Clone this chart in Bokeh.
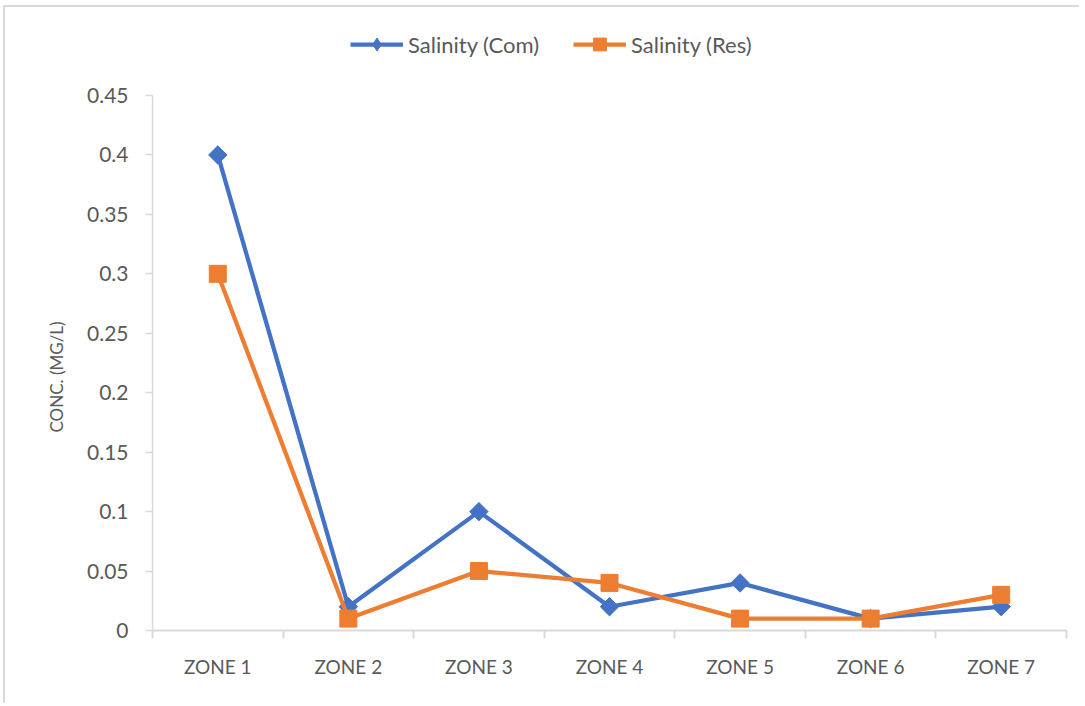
from bokeh.plotting import figure
from bokeh.models import (ColumnDataSource, Legend, LegendItem, FixedTicker, Range1d, Title)
from bokeh.embed import file_html
from bokeh.resources import INLINE
import numpy as np

zones = ["ZONE 1", "ZONE 2", "ZONE 3", "ZONE 4", "ZONE 5", "ZONE 6", "ZONE 7"]
salinity_com = [0.40, 0.02, 0.10, 0.02, 0.04, 0.01, 0.02]
salinity_res = [0.30, 0.01, 0.05, 0.04, 0.01, 0.01, 0.03]
y_ticks = [0, 0.05, 0.1, 0.15, 0.2, 0.25, 0.3, 0.35, 0.4, 0.45]
y_tick_labels = ["0", "0.05", "0.1", "0.15", "0.2", "0.25", "0.3", "0.35", "0.4", "0.45"]
y_title = "CONC. (MG/L)"

BLUE = "#4472C4"
ORANGE = "#ED7D31"
TXT = "#595959"
AX = "#d9d9d9"
FONT = "Lato"

Y_MAX = 0.45
# frame extends above the axis top (to host the legend): pixel layout 30 / 95 / 630
Y_END = Y_MAX * (630 - 30) / (630 - 95)

xpos = [i + 0.5 for i in range(len(zones))]
src = ColumnDataSource(dict(x=xpos, com=salinity_com, res=salinity_res))

p = figure(width=1076, height=698, output_backend="svg", toolbar_location=None,
           x_range=Range1d(0, len(zones)), y_range=Range1d(0, Y_END),
           min_border_left=147, min_border_right=15, min_border_top=23, min_border_bottom=75)
p.styles = {"margin-left": "3px", "margin-top": "5px",
            "border-left": "2px solid #d9d9d9", "border-top": "2px solid #d9d9d9"}
p.outline_line_color = None
p.xgrid.visible = False
p.ygrid.visible = False

# x axis: labels at centres, tick marks at category boundaries
xa = p.xaxis[0]
xa.ticker = FixedTicker(ticks=xpos, minor_ticks=list(range(len(zones) + 1)))
xa.major_label_overrides = {x: z for x, z in zip(xpos, zones)}
xa.major_tick_out = 0
xa.major_tick_in = 0
xa.minor_tick_out = 8
xa.minor_tick_in = 0
xa.minor_tick_line_color = AX
xa.minor_tick_line_width = 2
xa.axis_line_color = AX
xa.axis_line_width = 2
xa.major_label_standoff = 16
xa.major_label_text_font = FONT
xa.major_label_text_font_size = "19px"
xa.major_label_text_color = TXT

ya = p.yaxis[0]
ya.ticker = FixedTicker(ticks=y_ticks, minor_ticks=[])
ya.bounds = (0, Y_MAX)
ya.major_label_overrides = {t: l for t, l in zip(y_ticks, y_tick_labels)}
ya.major_tick_out = 7
ya.major_tick_in = 0
ya.major_tick_line_color = AX
ya.major_tick_line_width = 1.5
ya.axis_line_color = AX
ya.axis_line_width = 1.5
ya.major_label_standoff = 17
ya.major_label_text_font = FONT
ya.major_label_text_font_size = "21px"
ya.major_label_text_color = TXT

# y-axis title centred on the 0..0.45 span (frame is taller than the axis)
p.add_layout(Title(text=y_title, align="left", offset=198, standoff=36,
                   text_font=FONT, text_font_size="17px", text_font_style="normal",
                   text_color=TXT), "left")

l1 = p.line("x", "com", source=src, line_color=BLUE, line_width=4.25)
m1 = p.scatter("x", "com", source=src, marker="square", angle=np.pi / 4, size=13,
               fill_color=BLUE, line_color=BLUE)
l2 = p.line("x", "res", source=src, line_color=ORANGE, line_width=4.25)
m2 = p.scatter("x", "res", source=src, marker="square", size=17,
               fill_color=ORANGE, line_color=ORANGE)
# legend-only diamond (hidden in the plot)
m1_leg = p.scatter("x", "com", source=src, marker="diamond", size=13,
                   fill_color=BLUE, line_color=BLUE, visible=False)

legend = Legend(items=[LegendItem(label="Salinity (Com)", renderers=[l1, m1_leg]),
                       LegendItem(label="Salinity (Res)", renderers=[l2, m2])],
                location=(198, 570), orientation="horizontal",
                glyph_width=53, glyph_height=32, label_standoff=5, spacing=34,
                padding=0, margin=0, border_line_alpha=0, background_fill_alpha=0,
                label_text_font=FONT, label_text_font_size="22px", label_text_color=TXT)
p.add_layout(legend, "center")

open("out.html", "w").write(file_html(p, INLINE))
